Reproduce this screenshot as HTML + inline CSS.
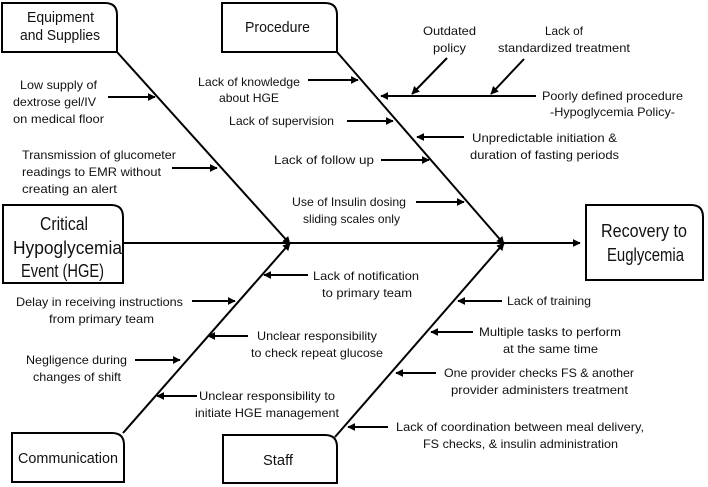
<!DOCTYPE html>
<html><head><meta charset="utf-8"><style>
html,body{margin:0;padding:0;background:#fff;}
svg{display:block;font-family:"Liberation Sans",sans-serif;}
text{fill:#111;font-size:12px;}
.b{font-size:15px;}
.c{font-size:18px;}
</style></head><body>
<svg width="708" height="487" viewBox="0 0 708 487" xmlns="http://www.w3.org/2000/svg">
<defs>
<marker id="a" viewBox="0 0 10 10" refX="9" refY="5" markerWidth="4" markerHeight="4" orient="auto"><path d="M0,0L10,5L0,10z" fill="#000"/></marker>
</defs>
<g fill="none" stroke="#000" stroke-width="2">
<path d="M2,3H105Q117,3 117,15V52H2Z"/>
<path d="M222,3H325Q337,3 337,15V52H222Z"/>
<path d="M3,205H111Q123,205 123,217V283H3Z"/>
<path d="M586,205H691Q703,205 703,217V280H586Z"/>
<path d="M12,433H112Q124,433 124,445V482H12Z"/>
<path d="M223,435H325Q337,435 337,447V483H223Z"/>
</g>
<g stroke="#000" stroke-width="2" fill="none" marker-end="url(#a)">
<line x1="123" y1="243" x2="580" y2="243"/>
<line x1="117" y1="52" x2="290" y2="244"/>
<line x1="337" y1="52" x2="504" y2="244"/>
<line x1="123" y1="433" x2="290" y2="243"/>
<line x1="335" y1="437" x2="504" y2="243"/>
<line x1="108" y1="97" x2="155" y2="97"/>
<line x1="172" y1="168" x2="217" y2="168"/>
<line x1="308" y1="80" x2="358" y2="80"/>
<line x1="347" y1="121" x2="393" y2="121"/>
<line x1="381" y1="160" x2="429" y2="160"/>
<line x1="416" y1="202" x2="464" y2="202"/>
<line x1="536" y1="96" x2="381" y2="96"/>
<line x1="447" y1="58" x2="412" y2="94"/>
<line x1="524" y1="59" x2="491" y2="94"/>
<line x1="464" y1="137" x2="417" y2="137"/>
<line x1="308" y1="275" x2="264" y2="275"/>
<line x1="192" y1="301" x2="235" y2="301"/>
<line x1="248" y1="336" x2="208" y2="336"/>
<line x1="135" y1="360" x2="180" y2="360"/>
<line x1="197" y1="396" x2="157" y2="396"/>
<line x1="502" y1="301" x2="458" y2="301"/>
<line x1="473" y1="332" x2="431" y2="332"/>
<line x1="436" y1="373" x2="396" y2="373"/>
<line x1="388" y1="427" x2="348" y2="427"/>
</g>
<g>
<text class="b" x="27" y="22" textLength="67" lengthAdjust="spacingAndGlyphs">Equipment</text>
<text class="b" x="20" y="40" textLength="80" lengthAdjust="spacingAndGlyphs">and Supplies</text>
<text class="b" x="245" y="32" textLength="65" lengthAdjust="spacingAndGlyphs">Procedure</text>
<text x="20" y="89" textLength="77" lengthAdjust="spacingAndGlyphs">Low supply of</text>
<text x="13" y="106" textLength="83" lengthAdjust="spacingAndGlyphs">dextrose gel/IV</text>
<text x="13" y="123" textLength="91" lengthAdjust="spacingAndGlyphs">on medical floor</text>
<text x="22" y="159" textLength="154" lengthAdjust="spacingAndGlyphs">Transmission of glucometer</text>
<text x="22" y="176" textLength="139" lengthAdjust="spacingAndGlyphs">readings to EMR without</text>
<text x="22" y="193" textLength="95" lengthAdjust="spacingAndGlyphs">creating an alert</text>
<text class="c" x="40" y="230" textLength="48" lengthAdjust="spacingAndGlyphs">Critical</text>
<text class="c" x="13" y="254" textLength="109" lengthAdjust="spacingAndGlyphs">Hypoglycemia</text>
<text class="c" x="21" y="277" textLength="83" lengthAdjust="spacingAndGlyphs">Event (HGE)</text>
<text x="198" y="86" textLength="102" lengthAdjust="spacingAndGlyphs">Lack of knowledge</text>
<text x="219" y="102" textLength="60" lengthAdjust="spacingAndGlyphs">about HGE</text>
<text x="229" y="125" textLength="105" lengthAdjust="spacingAndGlyphs">Lack of supervision</text>
<text x="274" y="164" textLength="100" lengthAdjust="spacingAndGlyphs">Lack of follow up</text>
<text x="292" y="206" textLength="114" lengthAdjust="spacingAndGlyphs">Use of Insulin dosing</text>
<text x="303" y="223" textLength="97" lengthAdjust="spacingAndGlyphs">sliding scales only</text>
<text x="423" y="35" textLength="53" lengthAdjust="spacingAndGlyphs">Outdated</text>
<text x="433" y="52" textLength="33" lengthAdjust="spacingAndGlyphs">policy</text>
<text x="545" y="35" textLength="38" lengthAdjust="spacingAndGlyphs">Lack of</text>
<text x="498" y="52" textLength="132" lengthAdjust="spacingAndGlyphs">standardized treatment</text>
<text x="542" y="100" textLength="141" lengthAdjust="spacingAndGlyphs">Poorly defined procedure</text>
<text x="550" y="116" textLength="125" lengthAdjust="spacingAndGlyphs">-Hypoglycemia Policy-</text>
<text x="472" y="142" textLength="145" lengthAdjust="spacingAndGlyphs">Unpredictable initiation &amp;</text>
<text x="470" y="159" textLength="149" lengthAdjust="spacingAndGlyphs">duration of fasting periods</text>
<text class="c" x="601" y="237" textLength="86" lengthAdjust="spacingAndGlyphs">Recovery to</text>
<text class="c" x="607" y="261" textLength="77" lengthAdjust="spacingAndGlyphs">Euglycemia</text>
<text x="313" y="280" textLength="106" lengthAdjust="spacingAndGlyphs">Lack of notification</text>
<text x="322" y="297" textLength="90" lengthAdjust="spacingAndGlyphs">to primary team</text>
<text x="16" y="306" textLength="167" lengthAdjust="spacingAndGlyphs">Delay in receiving instructions</text>
<text x="49" y="323" textLength="105" lengthAdjust="spacingAndGlyphs">from primary team</text>
<text x="257" y="340" textLength="120" lengthAdjust="spacingAndGlyphs">Unclear responsibility</text>
<text x="251" y="357" textLength="132" lengthAdjust="spacingAndGlyphs">to check repeat glucose</text>
<text x="26" y="364" textLength="101" lengthAdjust="spacingAndGlyphs">Negligence during</text>
<text x="33" y="381" textLength="88" lengthAdjust="spacingAndGlyphs">changes of shift</text>
<text x="199" y="400" textLength="136" lengthAdjust="spacingAndGlyphs">Unclear responsibility to</text>
<text x="195" y="417" textLength="144" lengthAdjust="spacingAndGlyphs">initiate HGE management</text>
<text x="507" y="305" textLength="84" lengthAdjust="spacingAndGlyphs">Lack of training</text>
<text x="479" y="336" textLength="142" lengthAdjust="spacingAndGlyphs">Multiple tasks to perform</text>
<text x="503" y="353" textLength="95" lengthAdjust="spacingAndGlyphs">at the same time</text>
<text x="444" y="377" textLength="190" lengthAdjust="spacingAndGlyphs">One provider checks FS &amp; another</text>
<text x="451" y="394" textLength="177" lengthAdjust="spacingAndGlyphs">provider administers treatment</text>
<text x="396" y="431" textLength="248" lengthAdjust="spacingAndGlyphs">Lack of coordination between meal delivery,</text>
<text x="423" y="448" textLength="195" lengthAdjust="spacingAndGlyphs">FS checks, &amp; insulin administration</text>
<text class="b" x="18" y="463" textLength="100" lengthAdjust="spacingAndGlyphs">Communication</text>
<text class="b" x="263" y="465" textLength="30" lengthAdjust="spacingAndGlyphs">Staff</text>
</g>
</svg>
</body></html>
